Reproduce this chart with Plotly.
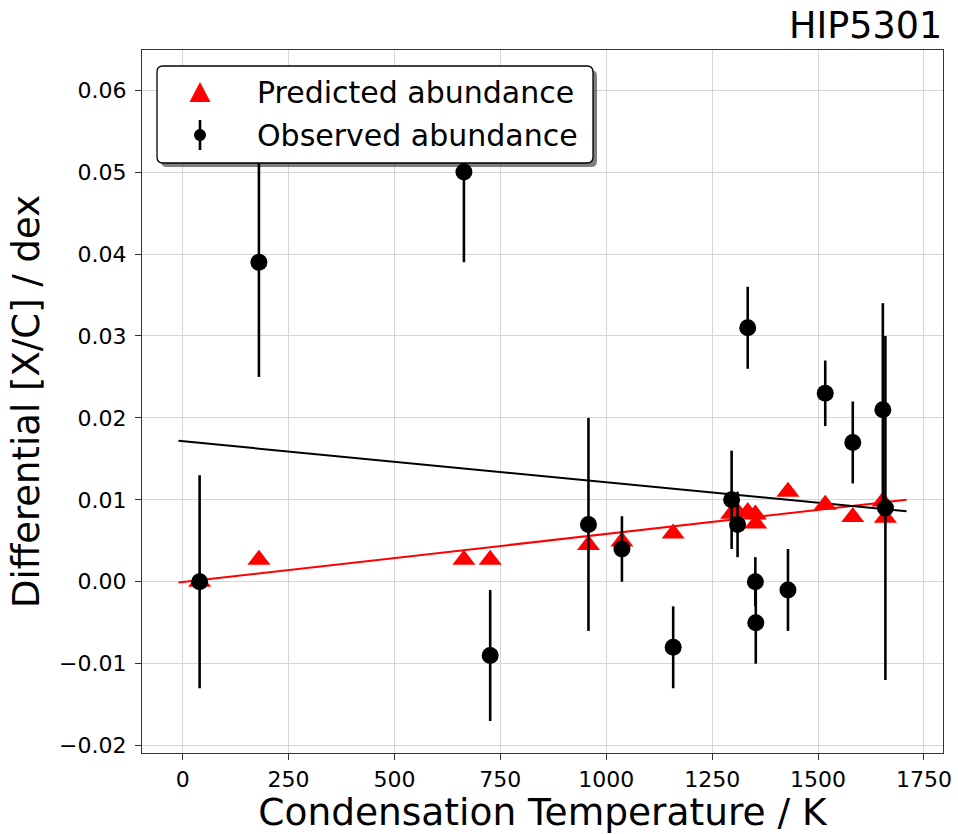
import plotly.graph_objects as go

# ---- data ----
elements = ["C", "O", "S", "Zn", "Na", "Cu", "Mn", "Cr", "Si", "Fe", "Co", "Ni", "V", "Ca", "Ti", "Al", "Sc"]
tc = [40, 180, 664, 726, 958, 1037, 1158, 1296, 1310, 1334, 1352, 1353, 1429, 1517, 1582, 1653, 1659]
observed = [0.000, 0.039, 0.050, -0.009, 0.007, 0.004, -0.008, 0.010, 0.007, 0.031, 0.000, -0.005,
            -0.001, 0.023, 0.017, 0.021, 0.009]
observed_err = [0.013, 0.014, 0.011, 0.008, 0.013, 0.004, 0.005, 0.006, 0.004, 0.005, 0.003, 0.005,
                0.005, 0.004, 0.005, 0.013, 0.021]
predicted = [0.0000, 0.0027, 0.0027, 0.0027, 0.0045, 0.0049, 0.0059, 0.0083, 0.0085, 0.0085, 0.0082,
             0.0071, 0.0110, 0.0094, 0.0079, 0.0098, 0.0078]
fit_tc = [-10, 1709]
observed_fit = [0.0172, 0.0086]
predicted_fit = [-0.0001, 0.0100]

legend_labels = ["Predicted abundance", "Observed abundance"]
x_ticks = [0, 250, 500, 750, 1000, 1250, 1500, 1750]
y_ticks = [-0.02, -0.01, 0.00, 0.01, 0.02, 0.03, 0.04, 0.05, 0.06]
y_tick_text = ["\u22120.02", "\u22120.01", "0.00", "0.01", "0.02", "0.03", "0.04", "0.05", "0.06"]

FONT = "DejaVu Sans"
W, H = 958, 834
L, R, T, B = 142, 15, 50, 81
PW, PH = W - L - R, H - T - B

fig = go.Figure()

fig.add_trace(go.Scatter(x=fit_tc, y=predicted_fit, mode="lines",
                         line=dict(color="red", width=2), showlegend=False, hoverinfo="skip"))
fig.add_trace(go.Scatter(x=fit_tc, y=observed_fit, mode="lines",
                         line=dict(color="black", width=2), showlegend=False, hoverinfo="skip"))
fig.add_trace(go.Scatter(x=tc, y=predicted, mode="markers", name=legend_labels[0],
                         text=elements, showlegend=False,
                         marker=dict(symbol="triangle-up", size=20, color="red")))
fig.add_trace(go.Scatter(x=tc, y=observed, mode="markers", name=legend_labels[1],
                         text=elements, showlegend=False,
                         marker=dict(symbol="circle", size=17, color="black"),
                         error_y=dict(type="data", array=observed_err, color="black",
                                      thickness=2.6, width=0)))


def px2paper(px, py):
    return (px - L) / PW, (H - B - py) / PH


def rounded(x0, y0, x1, y1, r):
    rx, ry = r / PW, r / PH
    a0, b1 = px2paper(x0, y0)
    a1, b0 = px2paper(x1, y1)
    return (f"M {a0+rx},{b1} L {a1-rx},{b1} Q {a1},{b1} {a1},{b1-ry} "
            f"L {a1},{b0+ry} Q {a1},{b0} {a1-rx},{b0} L {a0+rx},{b0} "
            f"Q {a0},{b0} {a0},{b0+ry} L {a0},{b1-ry} Q {a0},{b1} {a0+rx},{b1} Z")


def poly(points):
    pts = [px2paper(x, y) for x, y in points]
    return "M " + " L ".join(f"{a},{b}" for a, b in pts) + " Z"


# legend: frame with shadow, glyphs, labels
sym_x = 200
row_y = [92, 135]
c0 = px2paper(sym_x - 6, row_y[1] - 6)
c1 = px2paper(sym_x + 6, row_y[1] + 6)
e0 = px2paper(sym_x, row_y[1] - 15)
e1 = px2paper(sym_x, row_y[1] + 15)
shapes = [
    dict(type="path", xref="paper", yref="paper", path=rounded(161, 70, 597, 167, 6),
         fillcolor="rgba(0,0,0,0.5)", line=dict(width=0), layer="above"),
    dict(type="path", xref="paper", yref="paper", path=rounded(157, 66, 593, 163, 6),
         fillcolor="white", line=dict(color="black", width=1.3), layer="above"),
    dict(type="path", xref="paper", yref="paper",
         path=poly([(sym_x - 10.5, row_y[0] + 10), (sym_x + 10.5, row_y[0] + 10), (sym_x, row_y[0] - 10)]),
         fillcolor="red", line=dict(width=0), layer="above"),
    dict(type="line", xref="paper", yref="paper", x0=e0[0], y0=e0[1], x1=e1[0], y1=e1[1],
         line=dict(color="black", width=2.6), layer="above"),
    dict(type="circle", xref="paper", yref="paper", x0=c0[0], y0=c1[1], x1=c1[0], y1=c0[1],
         fillcolor="black", line=dict(width=0), layer="above"),
]

annotations = [dict(text="HIP5301", x=1, y=1, xref="paper", yref="paper",
                    xanchor="right", yanchor="bottom", yshift=1, xshift=1, showarrow=False,
                    font=dict(size=36.5, family=FONT))]
for lab, ry in zip(legend_labels, row_y):
    ax, ay = px2paper(255, ry)
    annotations.append(dict(text=lab, x=ax, y=ay, xref="paper", yref="paper",
                            xanchor="left", yanchor="middle", showarrow=False,
                            font=dict(size=30, family=FONT)))

fig.update_layout(
    width=W, height=H,
    margin=dict(l=L, r=R, t=T, b=B),
    paper_bgcolor="white", plot_bgcolor="white",
    font=dict(family=FONT, color="black"),
    shapes=shapes,
    annotations=annotations,
    showlegend=False,
)

axis_common = dict(showline=True, linecolor="#333333", linewidth=1.4, mirror=True,
                   ticks="outside", ticklen=6, tickwidth=1.2, tickcolor="#333333",
                   showgrid=True, gridcolor="#d6d6d6", gridwidth=1, zeroline=False,
                   automargin=False,
                   tickfont=dict(size=22, family=FONT, color="black"))

fig.update_xaxes(range=[-96, 1795], tickvals=x_ticks, ticktext=[str(v) for v in x_ticks],
                 title=dict(text="Condensation Temperature / K", font=dict(size=37.5, family=FONT),
                            standoff=4),
                 **axis_common)
fig.update_yaxes(range=[-0.0209, 0.0649], tickvals=y_ticks, ticktext=y_tick_text,
                 ticklabelstandoff=4,
                 title=dict(text="Differential [X/C] / dex", font=dict(size=37, family=FONT),
                            standoff=8),
                 **axis_common)

fig.write_html("out.html")
